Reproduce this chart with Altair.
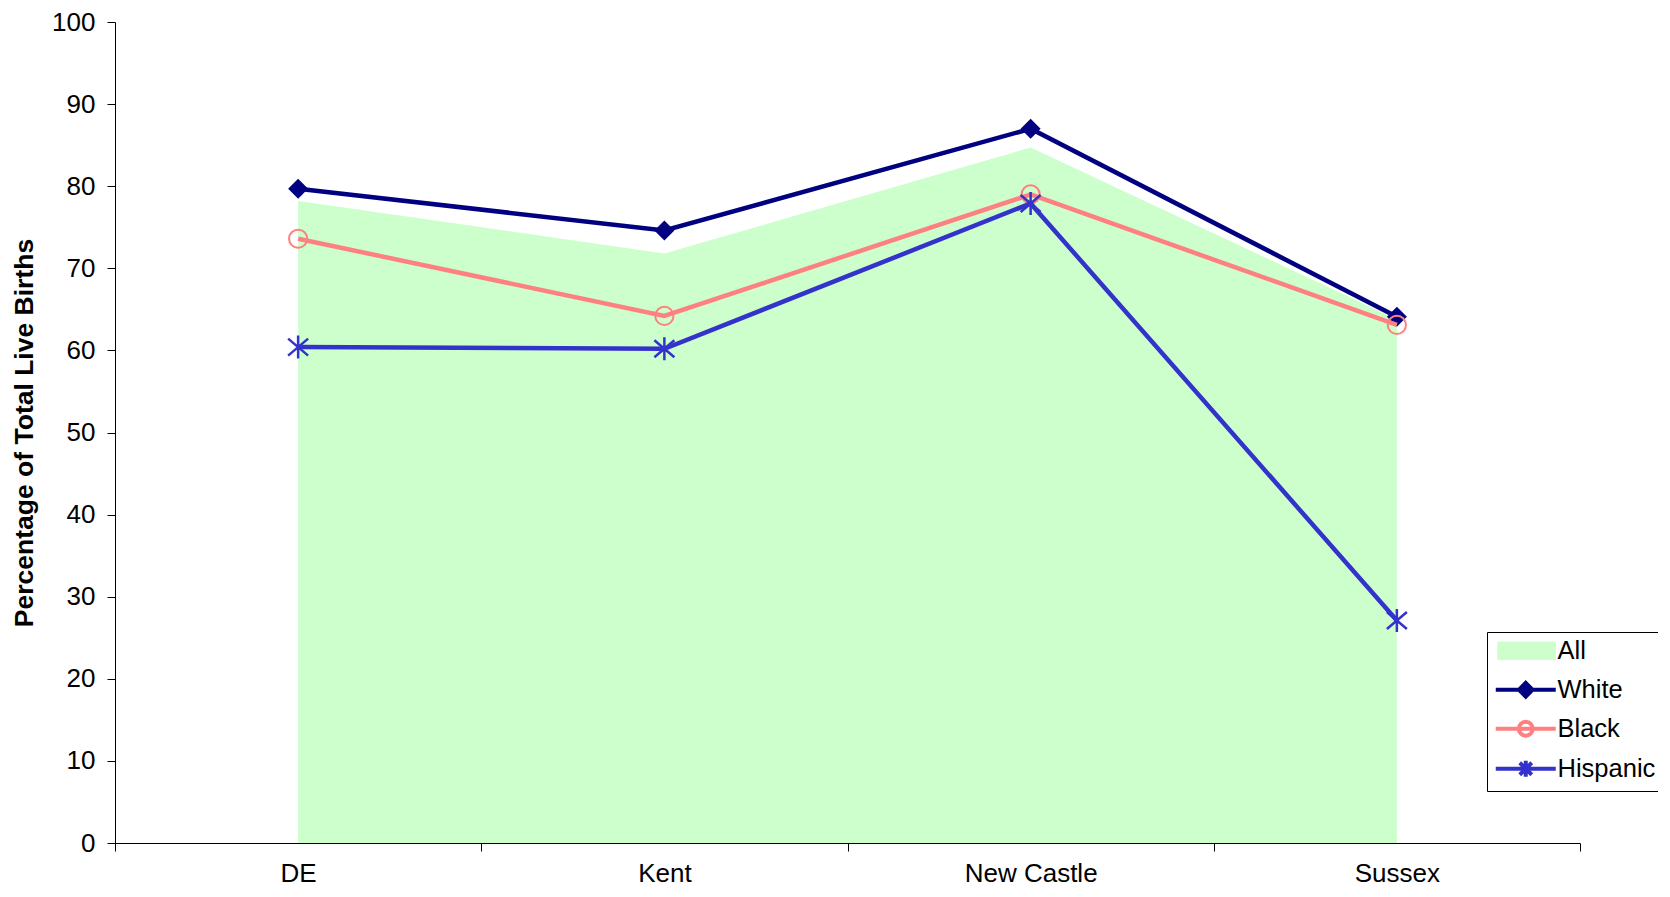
import altair as alt
import pandas as pd

counties = ["DE", "Kent", "New Castle", "Sussex"]
series_names = ["All", "White", "Black", "Hispanic"]
all_vals = [78.2, 71.8, 84.7, 63.8]
white_vals = [79.7, 74.6, 87.0, 64.1]
black_vals = [73.6, 64.2, 79.0, 63.1]
hispanic_vals = [60.4, 60.2, 77.9, 27.1]

colors = {"All": "#CCFFCC", "White": "#000080", "Black": "#FF8080", "Hispanic": "#3333CC"}
FONT = "Liberation Sans"

rows = []
for name, vals in zip(series_names, [all_vals, white_vals, black_vals, hispanic_vals]):
    for c, v in zip(counties, vals):
        rows.append({"series": name, "county": c, "value": v})
df = pd.DataFrame(rows)

x_enc = alt.X(
    "county:N",
    sort=counties,
    bandPosition=0.5,
    scale=alt.Scale(type="band", domain=counties, paddingInner=0, paddingOuter=0),
    axis=alt.Axis(
        title=None, tickBand="extent", labelAngle=0, labelFont=FONT, labelFontSize=26,
        labelColor="black", tickSize=8, tickColor="black", domainColor="black",
        labelPadding=9, grid=False,
    ),
)
y_enc = alt.Y(
    "value:Q",
    scale=alt.Scale(domain=[0, 100], nice=False),
    axis=alt.Axis(
        title="Percentage of Total Live Births", values=list(range(0, 101, 10)),
        grid=False, labelFont=FONT, labelFontSize=26, labelColor="black",
        tickSize=8, tickColor="black", domainColor="black", labelPadding=12,
        titleFont=FONT, titleFontSize=26.5, titleFontWeight="bold", titleColor="black",
        titlePadding=13,
    ),
)

base = alt.Chart(df).encode(x=x_enc, y=y_enc)

area = base.transform_filter(alt.datum.series == "All").mark_area(color=colors["All"])

layers = [area]
marker_shapes = {
    "White": dict(shape="diamond", size=400, filled=True, strokeWidth=0.5),
    "Black": dict(shape="circle", size=330, filled=False, strokeWidth=2),
    "Hispanic": dict(shape="M-1,-0.85L1,0.85M-1,0.85L1,-0.85M0,-1.15V1.15", size=400, filled=False, strokeWidth=2.5),
}
for name in ["White", "Black", "Hispanic"]:
    sub = base.transform_filter(alt.datum.series == name)
    layers.append(sub.mark_line(color=colors[name], strokeWidth=4.5))
    ms = marker_shapes[name]
    layers.append(sub.mark_point(color=colors[name], opacity=1, **ms))

# legend symbols: unit = 10 px, line runs from x=-1 to x=5 (60 px)
legend_paths = [
    "M-0.65,-0.72H4.8V0.72H-0.65Z",
    "M-1,0H5M2,-0.68L2.68,0L2,0.68L1.32,0Z",
    "M-1,0H5M2.7,0A0.7,0.7 0 1,1 1.3,0A0.7,0.7 0 1,1 2.7,0",
    "M-1,0H5M1.4,-0.6L2.6,0.6M1.4,0.6L2.6,-0.6M2,-0.8V0.8",
]
legend_fill = ["#CCFFCC", "#000080", "transparent", "transparent"]
legend_stroke = ["#CCFFCC", "#000080", "#FF8080", "#3333CC"]

leg = alt.Legend(
    title=None, orient="none", legendX=1372, legendY=610,
    labelFont=FONT, labelFontSize=25.5, labelColor="black", labelOffset=39,
    symbolSize=400, symbolStrokeWidth=4, fillColor="white", strokeColor="black",
    padding=6, rowPadding=8,
)
legend_layer = base.transform_filter("false").mark_point(
    size=400, filled=True, opacity=1, strokeWidth=4
).encode(
    shape=alt.Shape("series:N", scale=alt.Scale(domain=series_names, range=legend_paths), legend=leg),
    stroke=alt.Stroke("series:N", scale=alt.Scale(domain=series_names, range=legend_stroke), legend=leg),
    fill=alt.Fill("series:N", scale=alt.Scale(domain=series_names, range=legend_fill), legend=leg),
)
layers.append(legend_layer)

chart = alt.layer(*layers).properties(
    width=1465, height=821,
    background="white",
    autosize=alt.AutoSizeParams(type="none"),
    padding={"left": 107, "top": 14, "right": 78, "bottom": 46},
).configure_view(strokeWidth=0)

chart.save("out.html", embed_options={"renderer": "svg", "actions": False})
